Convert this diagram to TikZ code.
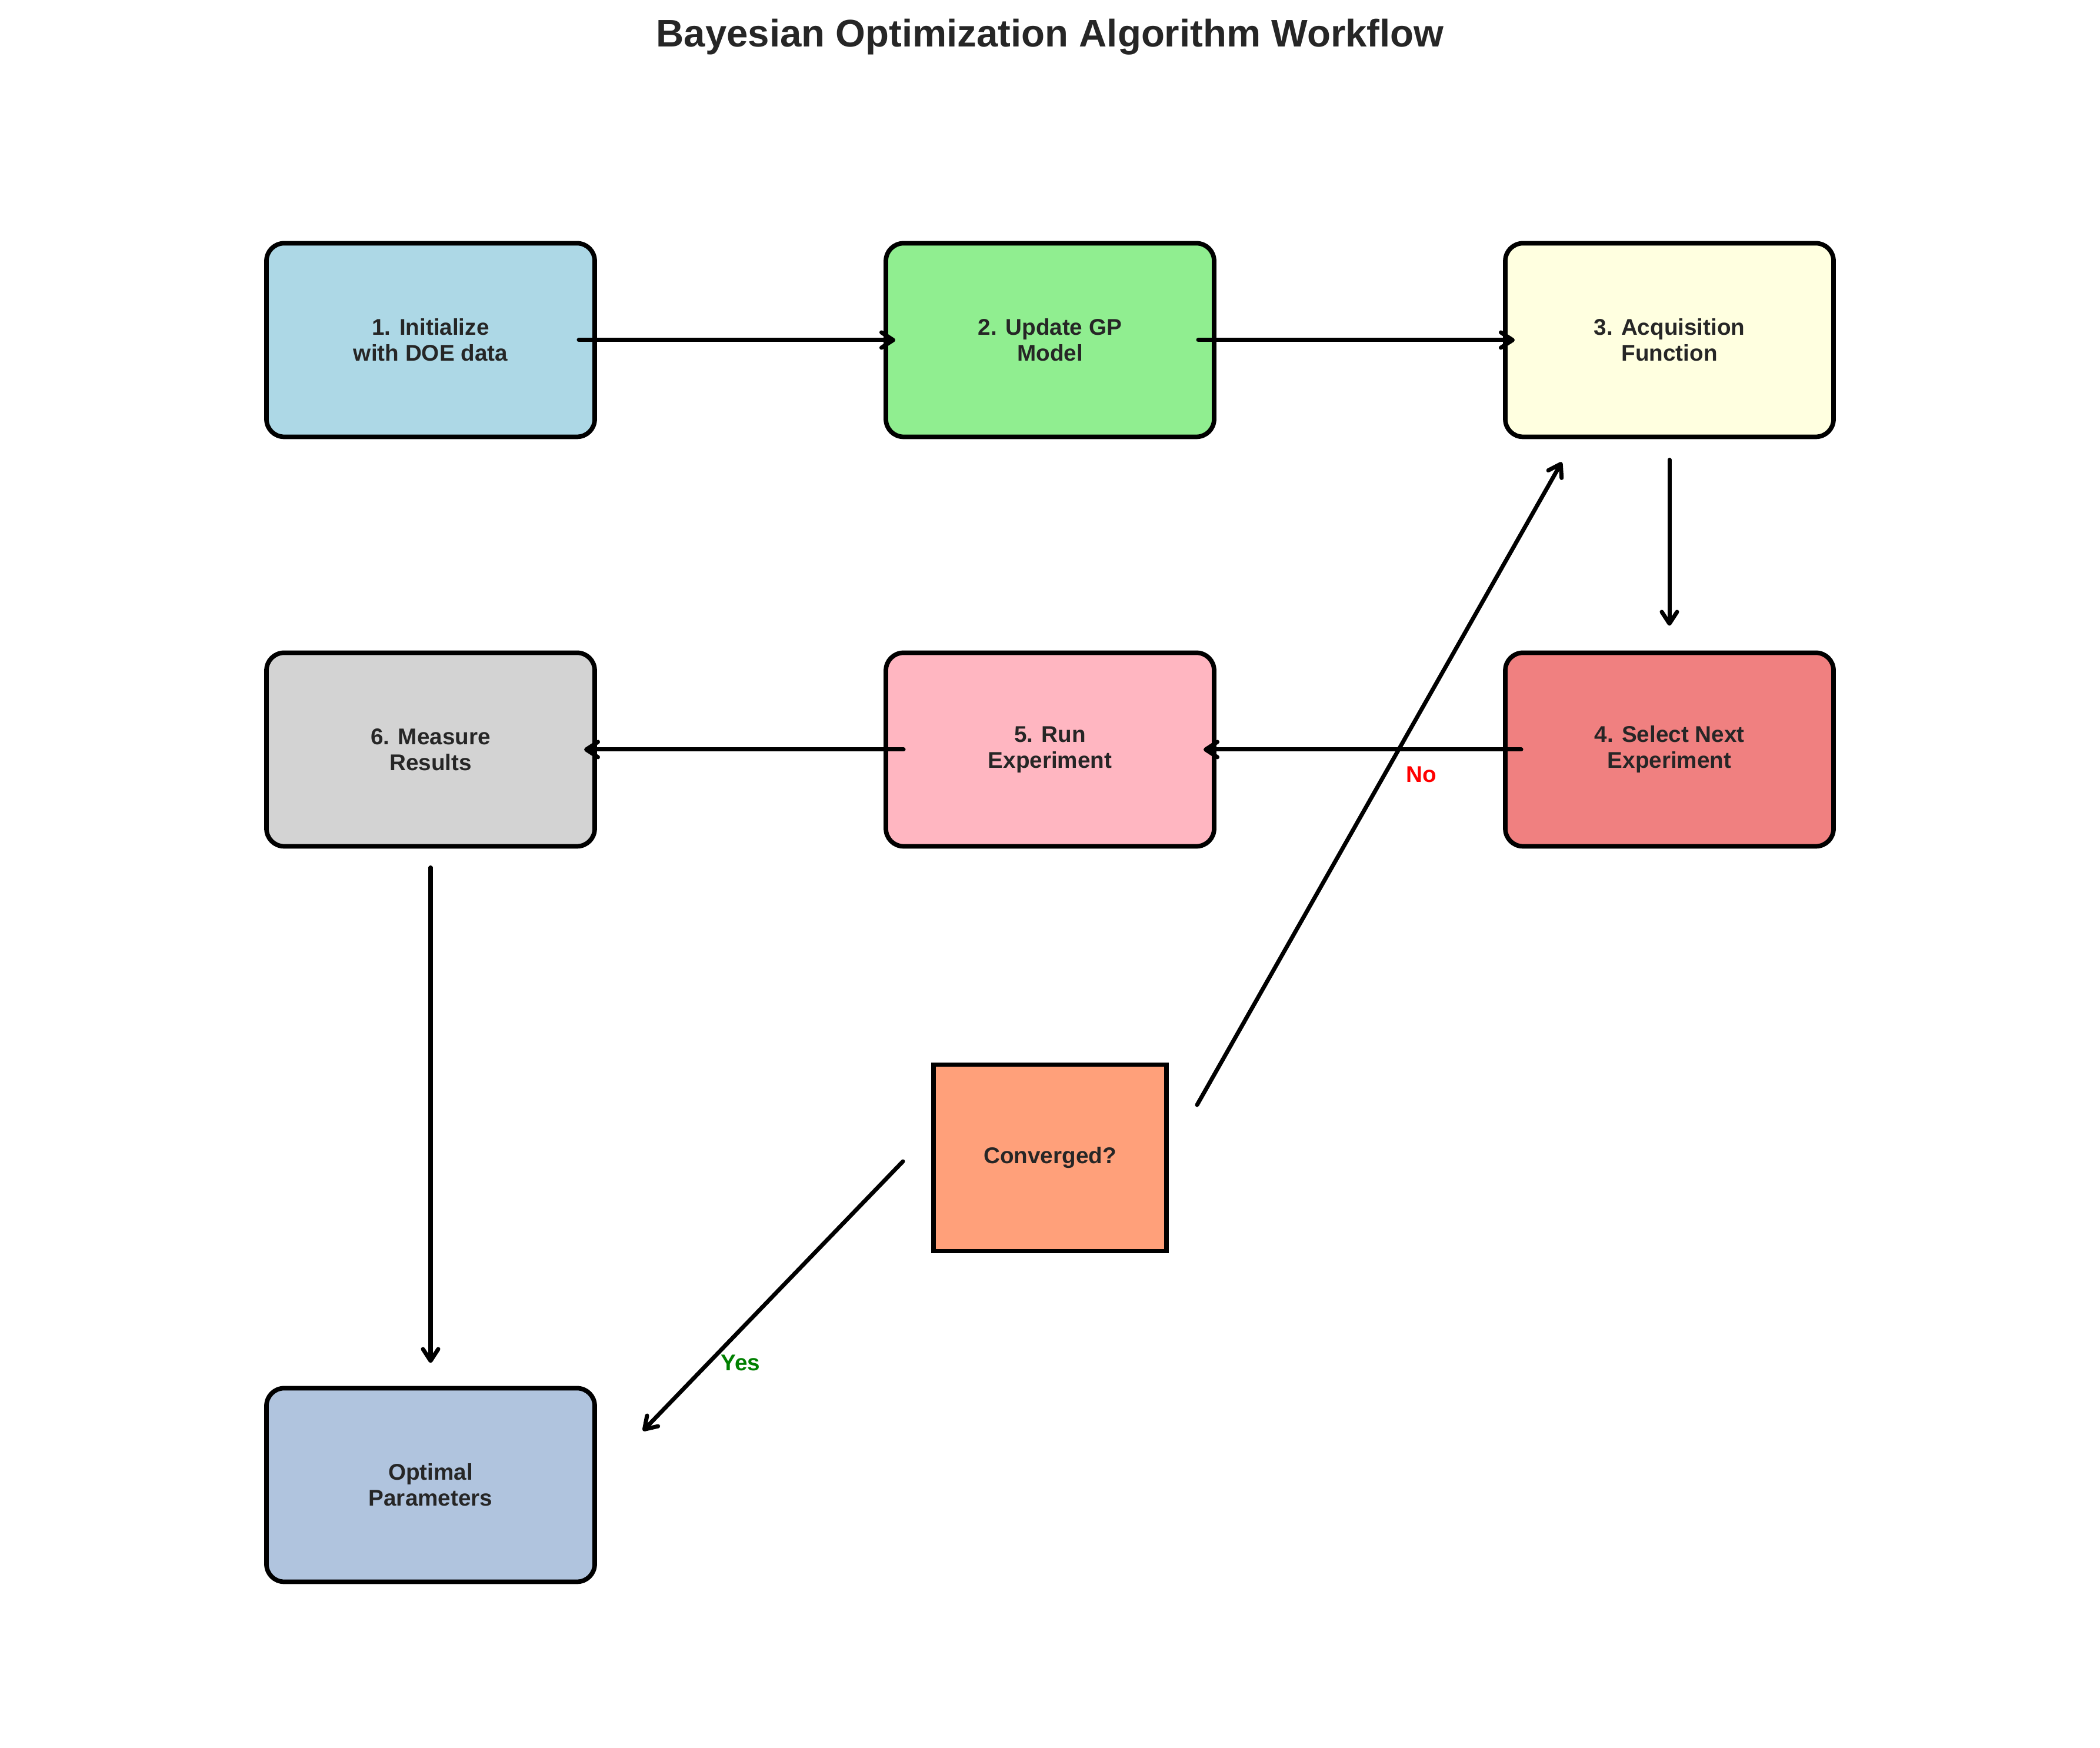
\documentclass[tikz,border=0pt]{standalone}
\usepackage{fontspec}
\setmainfont{Liberation Sans}
\usepackage{tikz}
\usetikzlibrary{calc, positioning, arrows.meta}
\definecolor{InitBlue}{RGB}{173, 216, 230}
\definecolor{GPGreen}{RGB}{144, 238, 144}
\definecolor{AcqYellow}{RGB}{255, 255, 224}
\definecolor{SelCoral}{RGB}{240, 128, 128}
\definecolor{RunPink}{RGB}{255, 182, 193}
\definecolor{MeasGrey}{RGB}{211, 211, 211}
\definecolor{OptSteel}{RGB}{176, 196, 222}
\definecolor{ConvSalmon}{RGB}{255, 160, 122}
\definecolor{TextGrey}{RGB}{38, 38, 38}
\definecolor{NoRed}{RGB}{255, 0, 0}
\definecolor{YesGreen}{RGB}{0, 128, 0}

\begin{document}
\begin{tikzpicture}[
    caja/.style={draw=black, line width=2.2pt, rounded corners=0.3cm,
        minimum width=5.58cm, minimum height=3.29cm, outer sep=0pt,
        align=center, text=TextGrey,
        font=\fontsize{11}{12.5}\selectfont\bfseries},
    flujo/.style={line width=2pt, line cap=round,
        -{Straight Barb[length=2mm, width=2.6mm, round]}},
    etiqueta/.style={font=\fontsize{11}{13}\selectfont\bfseries}
]
    \useasboundingbox (0,0) rectangle (35.70,29.71);

    % Título
    \node[anchor=base, font=\fontsize{18.6}{22}\selectfont\bfseries, text=TextGrey]
        (titulo) at (17.85,28.91) {Bayesian Optimization Algorithm Workflow};

    % Pasos del ciclo
    \node[caja, fill=InitBlue] (b1) at (7.32,23.93) {1. Initialize\\with DOE data};
    \node[caja, fill=GPGreen] (b2) at (17.85,23.93) {2. Update GP\\Model};
    \node[caja, fill=AcqYellow] (b3) at (28.38,23.93) {3. Acquisition\\Function};
    \node[caja, fill=SelCoral] (b4) at (28.38,16.97) {4. Select Next\\Experiment};
    \node[caja, fill=RunPink] (b5) at (17.85,16.97) {5. Run\\Experiment};
    \node[caja, fill=MeasGrey] (b6) at (7.32,16.97) {6. Measure\\Results};
    \node[caja, fill=OptSteel] (opt) at (7.32,4.47) {Optimal\\Parameters};

    % Decisión
    \node[caja, fill=ConvSalmon, rounded corners=0pt,
        minimum width=3.96cm, minimum height=3.17cm]
        (conv) at (17.85,10.03) {Converged?};

    % Flechas
    \draw[flujo, shorten <=-0.27cm, shorten >=-0.16cm] (b1.east) -- (b2.west);
    \draw[flujo, shorten <=-0.27cm, shorten >=-0.16cm] (b2.east) -- (b3.west);
    \draw[flujo, shorten <=0.39cm, shorten >=0.46cm] (b3.south) -- (b4.north);
    \draw[flujo, shorten <=-0.27cm, shorten >=-0.18cm] (b4.west) -- (b5.east);
    \draw[flujo, shorten <=-0.30cm, shorten >=-0.18cm] (b5.west) -- (b6.east);
    \draw[flujo, shorten <=0.36cm, shorten >=0.43cm] (b6.south) -- (opt.north);
    \draw[flujo] ($(conv.west)+(-0.52,-0.06)$) -- ($(opt.east)+(0.82,0.92)$);
    \draw[flujo] ($(conv.east)+(0.52,0.90)$) -- ($(b3.south)+(-1.83,-0.43)$);

    % Etiquetas de decisión
    \node[etiqueta, text=NoRed] (no) at (24.16,16.55) {No};
    \node[etiqueta, text=YesGreen] (yes) at (12.59,6.55) {Yes};
\end{tikzpicture}
\end{document}
